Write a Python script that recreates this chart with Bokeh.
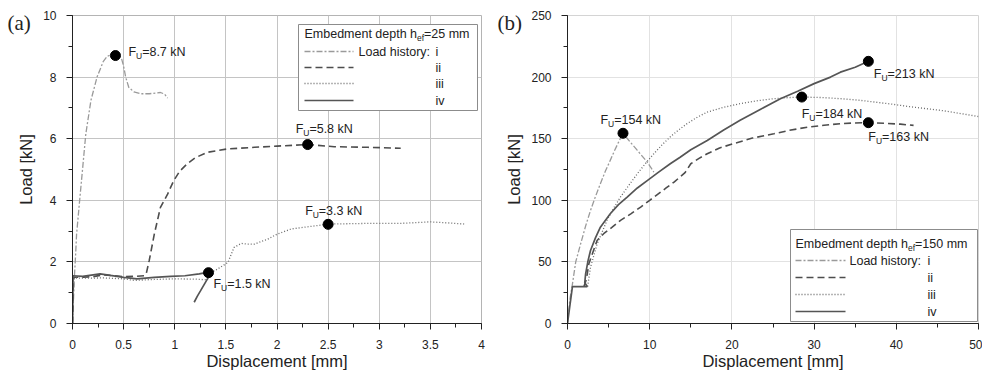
from bokeh.plotting import figure
from bokeh.models import FixedTicker, CustomJSTickFormatter, Range1d, ColumnDataSource, GridBox
from bokeh.core.properties import value
from bokeh.embed import file_html
from bokeh.resources import INLINE

# ---------------- DATA ----------------
# Panel (a): embedment depth 25 mm
a_i_x = [0, 0.02, 0.03, 0.04, 0.07, 0.10, 0.13, 0.18, 0.24, 0.30, 0.34, 0.38, 0.42, 0.45, 0.48, 0.50,
         0.52, 0.55, 0.60, 0.67, 0.75, 0.86, 0.90, 0.93]
a_i_y = [0, 1.6, 2.2, 2.9, 4.0, 5.07, 6.15, 7.24, 8.0, 8.5, 8.68, 8.72, 8.72, 8.72, 8.6, 8.35,
         8.0, 7.67, 7.52, 7.46, 7.46, 7.5, 7.45, 7.32]

a_ii_x = [0, 0.01, 0.1, 0.2, 0.3, 0.4, 0.5, 0.6, 0.70, 0.72, 0.75, 0.80, 0.86, 0.93, 0.99, 1.05,
          1.12, 1.2, 1.32, 1.52, 1.78, 2.0, 2.3, 2.56, 2.89, 3.21]
a_ii_y = [0, 1.5, 1.5, 1.52, 1.58, 1.55, 1.52, 1.53, 1.55, 1.6, 2.04, 2.9, 3.77, 4.2, 4.64, 4.95,
          5.18, 5.38, 5.56, 5.67, 5.72, 5.76, 5.81, 5.74, 5.72, 5.69]

a_iii_x = [0, 0.01, 0.1, 0.3, 0.5, 0.6, 0.8, 1.0, 1.2, 1.32, 1.33, 1.39, 1.52, 1.58, 1.65, 1.71,
           1.78, 1.91, 2.0, 2.14, 2.30, 2.51, 2.7, 2.89, 3.21, 3.5, 3.7, 3.83]
a_iii_y = [0, 1.48, 1.47, 1.48, 1.45, 1.4, 1.43, 1.45, 1.44, 1.42, 1.65, 1.71, 1.98, 2.47, 2.6, 2.58,
           2.58, 2.74, 2.9, 3.07, 3.14, 3.23, 3.24, 3.25, 3.25, 3.3, 3.26, 3.23]

a_iv_x = [0, 0.005, 0.1, 0.27, 0.37, 0.5, 0.63, 0.8, 0.96, 1.1, 1.24, 1.33, 1.34, 1.32, 1.29, 1.25, 1.22, 1.19]
a_iv_y = [0, 1.55, 1.53, 1.61, 1.56, 1.5, 1.45, 1.5, 1.53, 1.55, 1.61, 1.67, 1.62, 1.45, 1.28, 1.05, 0.88, 0.69]

a_peak_x = [0.42, 2.3, 2.5, 1.33]
a_peak_y = [8.7, 5.81, 3.22, 1.65]
a_peak_text = ["=8.7 kN", "=5.8 kN", "=3.3 kN", "=1.5 kN"]

a_xticks = [0, 0.5, 1, 1.5, 2, 2.5, 3, 3.5, 4]
a_xminor = [0.25 * k for k in range(17)]
a_yticks = [0, 2, 4, 6, 8, 10]
a_yminor = list(range(11))

# Panel (b): embedment depth 150 mm
b_i_x = [0, 0.3, 0.6, 1.0, 1.6, 2.2, 2.8, 3.4, 4.0, 4.6, 5.2, 5.7, 6.2, 6.75, 7.6, 8.5, 9.7, 10.5]
b_i_y = [0, 20, 32, 50, 64.7, 79, 91.8, 103, 113.5, 123.5, 132.4, 140, 147, 154.4, 147.5, 140.5, 131, 122.9]

b_ii_x = [2.0, 2.3, 2.6, 3.1, 3.6, 4.4, 5.4, 6.45, 7.7, 8.9, 10.0, 11.0, 12.0, 13.0, 13.7, 14.3, 14.6,
          15.0, 16.0, 17.0, 18.5, 20.2, 22.5, 25.1, 27.0, 29.2, 31.2, 33.2, 35.0, 36.5, 38.5, 40.5, 42.1]
b_ii_y = [30, 36, 48.5, 58, 67.4, 72.9, 78, 83.7, 89, 94.5, 100, 105, 110, 115, 119, 122.5, 125.5,
          129.7, 134, 137.8, 142.5, 146, 150.5, 154, 156.8, 159.4, 160.9, 162.2, 162.8, 163, 162.5, 161.8, 160.8]

b_iii_x = [2.45, 2.8, 3.2, 3.6, 4.2, 4.8, 5.6, 6.45, 7.5, 8.5, 9.5, 10.5, 11.5, 12.5, 13.5, 14.5, 15.8,
           17.0, 19.0, 21.0, 23.0, 25.1, 27.0, 28.5, 31.0, 33.2, 35.5, 37.3, 39.5, 41.3, 43.5, 45.4, 47.5, 50.0]
b_iii_y = [30, 45.7, 55, 64.5, 74, 83.7, 93.5, 102.7, 112.5, 121.6, 130, 137.8, 145, 151.5, 157, 162, 167.5,
           171.6, 175.5, 178.4, 180.7, 182.5, 183.4, 183.8, 183.4, 182.5, 181.2, 179.8, 178, 176.3, 174.5, 173, 170.8, 168]

b_iv_x = [0, 0.6, 2.4, 2.1, 2.2, 2.5, 2.8, 3.4, 4.0, 5.2, 6.2, 7.26, 8.5, 9.7, 11.0, 12.5, 13.7, 15.0,
          17.0, 19.0, 21.0, 23.5, 25.9, 28.0, 30.0, 32.0, 33.2, 35.0, 36.6]
b_iv_y = [0, 30, 30, 33, 40, 51, 59.3, 69.5, 78.2, 89.1, 96.5, 102.6, 110, 116, 122.5, 129.7, 135, 141,
          148.6, 157, 164.9, 174, 182.5, 188.5, 194.7, 200, 204, 208, 212.8]

b_peak_x = [6.75, 28.5, 36.6, 36.6]
b_peak_y = [154.4, 183.8, 163, 212.8]
b_peak_text = ["=154 kN", "=184 kN", "=163 kN", "=213 kN"]

b_xticks = [0, 10, 20, 30, 40, 50]
b_xminor = list(range(0, 51, 5))
b_yticks = [0, 50, 100, 150, 200, 250]
b_yminor = list(range(0, 251, 25))

series_names = ["i", "ii", "iii", "iv"]
panel_tags = ["(a)", "(b)"]

# ---------------- STYLES / LAYOUT ----------------
FONT = "Liberation Sans"
SERIF = "Liberation Serif"
TXT = "#222222"
STY = {
    "i": dict(line_color="#9a9a9a", line_dash="6 2 2 2", line_width=1.3),
    "ii": dict(line_color="#4d4d4d", line_dash="7 4", line_width=1.6),
    "iii": dict(line_color="#6a6a6a", line_dash="1 2", line_width=1.3),
    "iv": dict(line_color="#555555", line_dash="solid", line_width=1.7),
}
W, H = 982, 372
TAG_POS = [(7, 22), (497, 22)]   # page pixels (left, vertical centre)


class Geo:
    def __init__(self, page_left, fl, fw, ft, fh, xr, yr):
        self.page_left, self.fl, self.fw, self.ft, self.fh = page_left, fl, fw, ft, fh
        self.xr, self.yr = xr, yr

    def dx(self, px):  # page px -> data x
        return self.xr[0] + (px - self.page_left - self.fl) / self.fw * (self.xr[1] - self.xr[0])

    def dy(self, py):
        return self.yr[0] + (self.ft + self.fh - py) / self.fh * (self.yr[1] - self.yr[0])


def make_fig(width, geo, xt, xm, yt, ym, grid_color, outline_color):
    p = figure(width=width, height=H, x_range=Range1d(*geo.xr), y_range=Range1d(*geo.yr),
               output_backend="svg", toolbar_location=None,
               min_border_left=geo.fl, min_border_right=width - geo.fl - geo.fw,
               min_border_top=geo.ft, min_border_bottom=H - geo.ft - geo.fh)
    p.background_fill_color = "white"
    p.border_fill_color = "white"
    p.outline_line_color = outline_color
    p.xaxis.ticker = FixedTicker(ticks=xt, minor_ticks=xm)
    p.yaxis.ticker = FixedTicker(ticks=yt, minor_ticks=ym)
    fmt = "return String(tick);"
    p.xaxis.formatter = CustomJSTickFormatter(code=fmt)
    p.yaxis.formatter = CustomJSTickFormatter(code=fmt)
    for ax in (p.xaxis[0], p.yaxis[0]):
        ax.axis_line_color = TXT
        ax.major_tick_line_color = TXT
        ax.minor_tick_line_color = TXT
        ax.major_tick_out = 6
        ax.major_tick_in = 0
        ax.minor_tick_out = 4
        ax.minor_tick_in = 0
        ax.major_label_text_font = FONT
        ax.major_label_text_font_size = "12px"
        ax.major_label_text_color = TXT
        ax.major_label_standoff = 10
        ax.axis_label_text_font = FONT
        ax.axis_label_text_font_size = "16.5px"
        ax.axis_label_text_font_style = "normal"
        ax.axis_label_text_color = TXT
    p.xaxis.axis_label = "Displacement [mm]"
    p.yaxis.axis_label = "Load [kN]"
    p.xaxis.axis_label_standoff = 0
    p.yaxis.axis_label_standoff = 5
    p.xgrid.grid_line_color = grid_color
    p.ygrid.grid_line_color = grid_color
    return p


def add_peaks(p, xs, ys, texts, dxs, dys):
    p.scatter(xs, ys, size=10, color="black")
    src = ColumnDataSource(dict(x=xs, y=ys, t=texts,
                                dF=dxs, dU=[d + 7.6 for d in dxs], dR=[d + 13.7 for d in dxs],
                                yF=dys, yU=[d + 4 for d in dys]))
    common = dict(source=src, text_font=value(FONT), text_color=TXT, text_baseline="middle", text_align="left")
    p.text(x="x", y="y", text=value("F"), x_offset="dF", y_offset="yF", text_font_size="12.5px", **common)
    p.text(x="x", y="y", text=value("U"), x_offset="dU", y_offset="yU", text_font_size="8.5px", **common)
    p.text(x="x", y="y", text="t", x_offset="dR", y_offset="yF", text_font_size="12.5px", **common)


def add_legend(p, geo, box, title_y, rows_y, line_x, text_x, num_x, depth_text):
    l, t, r, b = box
    p.quad(left=[geo.dx(l)], right=[geo.dx(r)], top=[geo.dy(t)], bottom=[geo.dy(b)],
           fill_color="white", line_color="#8c8c8c", line_width=1)
    common = dict(text_font=value(FONT), text_color=TXT, text_baseline="middle", text_align="left")
    tx, ty = geo.dx(line_x[0]), geo.dy(title_y)
    p.text(x=[tx], y=[ty], text=["Embedment depth h"], text_font_size="12.5px", **common)
    p.text(x=[tx], y=[ty], text=["ef"], x_offset=112.5, y_offset=4, text_font_size="8.5px", **common)
    p.text(x=[tx], y=[ty], text=[depth_text], x_offset=119.5, text_font_size="12.5px", **common)
    for name, ry in zip(series_names, rows_y):
        yy = geo.dy(ry)
        p.line([geo.dx(line_x[0]), geo.dx(line_x[1])], [yy, yy], **STY[name])
        p.text(x=[geo.dx(num_x)], y=[yy], text=[name], text_font_size="12.5px", **common)
    p.text(x=[geo.dx(text_x)], y=[geo.dy(rows_y[0])], text=["Load history:"], text_font_size="12.5px", **common)


def make_overlay():
    # full-page transparent overlay carrying the panel tags (y axis runs downwards, page pixels)
    t = figure(width=W, height=H, x_range=Range1d(0, W), y_range=Range1d(H, 0),
               output_backend="svg", toolbar_location=None, x_axis_type=None, y_axis_type=None,
               min_border=0, min_border_left=0, min_border_right=0, min_border_top=0, min_border_bottom=0)
    t.frame_align = False
    t.grid.visible = False
    t.outline_line_color = None
    t.background_fill_alpha = 0
    t.border_fill_alpha = 0
    t.text(x=[p[0] for p in TAG_POS], y=[p[1] for p in TAG_POS], text=panel_tags,
           text_font=value(SERIF), text_font_size="21px",
           text_color=TXT, text_baseline="middle", text_align="left")
    return t


# ---------------- PANEL (a) ----------------
ga = Geo(0, 72, 409, 15, 308, (0, 4), (0, 10))
pa = make_fig(490, ga, a_xticks, a_xminor, a_yticks, a_yminor, "#c4c4c4", "#b4b4b4")
for name, xs, ys in zip(series_names, [a_i_x, a_ii_x, a_iii_x, a_iv_x], [a_i_y, a_ii_y, a_iii_y, a_iv_y]):
    pa.line(xs, ys, **STY[name])
add_peaks(pa, a_peak_x, a_peak_y, a_peak_text, [13, -12, -23, 5], [-4, -16, -13, 11])
add_legend(pa, ga, (298, 24, 477, 110), 33, [51, 67, 83, 100], (304, 353), 358, 435, "=25 mm")

# ---------------- PANEL (b) ----------------
gb = Geo(490, 77, 411, 15, 308, (0, 50), (0, 250))
pb = make_fig(492, gb, b_xticks, b_xminor, b_yticks, b_yminor, "#e2e2e2", "#d4d4d4")
for name, xs, ys in zip(series_names, [b_i_x, b_ii_x, b_iii_x, b_iv_x], [b_i_y, b_ii_y, b_iii_y, b_iv_y]):
    pb.line(xs, ys, **STY[name])
add_peaks(pb, b_peak_x, b_peak_y, b_peak_text, [-22.5, 0, 0, 5.5], [-13, 16.6, 14.4, 12.3])
add_legend(pb, gb, (790, 229, 977, 321), 243, [260, 277, 294, 311], (795, 845), 849, 927, "=150 mm")

layout = GridBox(children=[(pa, 0, 0), (pb, 0, 1), (make_overlay(), 0, 0, 1, 2)])
open("out.html", "w").write(file_html(layout, INLINE))
